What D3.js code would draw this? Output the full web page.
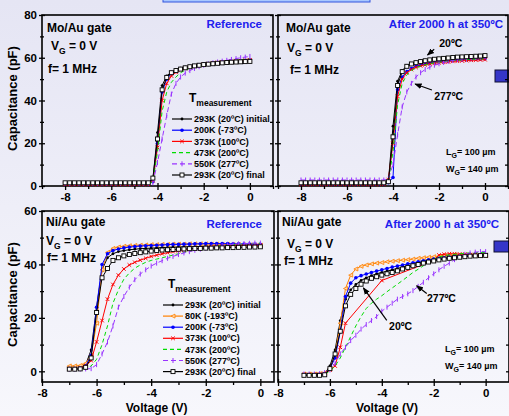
<!DOCTYPE html>
<html>
<head>
<meta charset="utf-8">
<script src="https://cdn.jsdelivr.net/npm/d3@7"></script>
<style>
  body { margin: 0; background: #f0f0f9; }
  svg { display: block; font-family: "Liberation Sans", Arial, sans-serif; font-weight: bold; }
</style>
</head>
<body>
<svg id="chart" width="509" height="416"></svg>
<script>
// voltage grids (V)
const voltsMo = [-8, -7.8, -7.6, -7.4, -7.2, -7, -6.8, -6.6, -6.4, -6.2, -6, -5.8, -5.6, -5.4, -5.2, -5, -4.8, -4.6, -4.4,
  -4.2, -4, -3.8, -3.6, -3.4, -3.2, -3, -2.8, -2.6, -2.4, -2.2, -2, -1.8, -1.6, -1.4, -1.2, -1, -0.8, -0.6, -0.4, -0.2, 0];
const voltsNi = [-7, -6.8, -6.6, -6.4, -6.2, -6, -5.8, -5.6, -5.4, -5.2, -5, -4.8, -4.6, -4.4, -4.2, -4, -3.8, -3.6,
  -3.4, -3.2, -3, -2.8, -2.6, -2.4, -2.2, -2, -1.8, -1.6, -1.4, -1.2, -1, -0.8, -0.6, -0.4, -0.2, 0];

// Mo/Au reference (pF)
const moRefInit = [1.4, 1.4, 1.4, 1.4, 1.4, 1.4, 1.4, 1.4, 1.4, 1.4, 1.4, 1.4, 1.4, 1.4, 1.4, 1.4, 1.4, 1.4, 1.4,
  3.0, 25, 47, 51.5, 53.3, 54.4, 55.1, 55.6, 56.0, 56.4, 56.7, 57.0, 57.2, 57.4, 57.6, 57.8, 57.9, 58.0, 58.1, 58.2, 58.3, 58.4];
const moRef200 = [1.2, 1.2, 1.2, 1.2, 1.2, 1.2, 1.2, 1.2, 1.2, 1.2, 1.2, 1.2, 1.2, 1.2, 1.2, 1.2, 1.2, 1.2, 1.2,
  2.0, 20, 44, 50, 52.6, 54.0, 54.8, 55.4, 55.9, 56.3, 56.7, 57.0, 57.3, 57.5, 57.7, 57.9, 58.1, 58.3, 58.4, 58.6, 58.7, 58.9];
const moRef373 = [0.8, 0.8, 0.8, 0.8, 0.8, 0.8, 0.8, 0.8, 0.8, 0.8, 0.8, 0.8, 0.8, 0.8, 0.8, 0.8, 0.8, 0.8, 0.8,
  2.5, 18, 40, 48, 51.5, 53.2, 54.3, 55.0, 55.6, 56.1, 56.5, 56.9, 57.2, 57.5, 57.7, 57.9, 58.1, 58.3, 58.5, 58.6, 58.8, 59.0];
const moRef473 = [1.0, 1.0, 1.0, 1.0, 1.0, 1.0, 1.0, 1.0, 1.0, 1.0, 1.0, 1.0, 1.0, 1.0, 1.0, 1.0, 1.0, 1.0, 1.0,
  2.0, 16, 35, 44, 48.5, 51.0, 53.0, 54.2, 55.1, 55.8, 56.3, 56.8, 57.2, 57.6, 57.9, 58.2, 58.5, 58.7, 58.9, 59.1, 59.3, 59.5];
const moRef550 = [1.2, 1.2, 1.2, 1.2, 1.2, 1.2, 1.2, 1.2, 1.2, 1.2, 1.2, 1.2, 1.2, 1.2, 1.2, 1.2, 1.2, 1.2, 1.2,
  1.5, 11, 22, 33, 43, 48, 51, 52.8, 54.0, 55.0, 55.8, 56.5, 57.1, 57.6, 58.0, 58.4, 58.8, 59.2, 59.6, 60.0, 60.3, 60.6];
const moRefFinal = [1.5, 1.5, 1.5, 1.5, 1.5, 1.5, 1.5, 1.5, 1.5, 1.5, 1.5, 1.5, 1.5, 1.5, 1.5, 1.5, 1.5, 1.5, 1.5,
  3.7, 22, 45, 50.8, 53.0, 54.0, 54.7, 55.3, 55.8, 56.2, 56.5, 56.8, 57.0, 57.2, 57.4, 57.6, 57.8, 57.9, 58.0, 58.1, 58.2, 58.3];

// Mo/Au after 2000 h at 350 C (pF)
const moAgedInit = [1.3, 1.3, 1.3, 1.3, 1.3, 1.3, 1.3, 1.3, 1.3, 1.3, 1.3, 1.3, 1.3, 1.3, 1.3, 1.3, 1.3, 1.3, 1.3,
  2.0, 28, 49, 54, 56.3, 57.4, 58.0, 58.5, 58.9, 59.2, 59.5, 59.7, 59.9, 60.1, 60.2, 60.3, 60.4, 60.5, 60.6, 60.7, 60.8, 60.9];
const moAged200 = [1.0, 1.0, 1.0, 1.0, 1.0, 1.0, 1.0, 1.0, 1.0, 1.0, 1.0, 1.0, 1.0, 1.0, 1.0, 1.0, 1.0, 1.0, 1.0,
  1.5, 4, 45, 51, 53.5, 55.0, 56.0, 56.6, 57.1, 57.5, 57.8, 58.1, 58.3, 58.5, 58.7, 58.9, 59.0, 59.1, 59.2, 59.3, 59.4, 59.5];
const moAged373 = [0.8, 0.8, 0.8, 0.8, 0.8, 0.8, 0.8, 0.8, 0.8, 0.8, 0.8, 0.8, 0.8, 0.8, 0.8, 0.8, 0.8, 0.8, 0.8,
  3.0, 20, 42, 50, 53, 54.5, 55.5, 56.2, 56.7, 57.1, 57.4, 57.7, 57.9, 58.1, 58.3, 58.4, 58.6, 58.7, 58.8, 58.9, 59.0, 59.1];
const moAged473 = [1.0, 1.0, 1.0, 1.0, 1.0, 1.0, 1.0, 1.0, 1.0, 1.0, 1.0, 1.0, 1.0, 1.0, 1.0, 1.0, 1.0, 1.0, 1.0,
  2.0, 16, 38, 48, 52, 54, 55.3, 56.1, 56.7, 57.2, 57.6, 57.9, 58.2, 58.4, 58.6, 58.8, 59.0, 59.1, 59.2, 59.3, 59.4, 59.5];
const moAged550 = [2.8, 2.8, 2.8, 2.8, 2.8, 2.8, 2.8, 2.8, 2.8, 2.8, 2.8, 2.8, 2.8, 2.8, 2.8, 2.8, 2.8, 2.8, 2.8,
  3.5, 10, 24, 37, 44, 48, 51, 53, 54.5, 55.6, 56.5, 57.2, 57.8, 58.3, 58.7, 59.1, 59.4, 59.7, 59.9, 60.1, 60.3, 60.5];
const moAgedFinal = [1.5, 1.5, 1.5, 1.5, 1.5, 1.5, 1.5, 1.5, 1.5, 1.5, 1.5, 1.5, 1.5, 1.5, 1.5, 1.5, 1.5, 1.5, 1.5,
  2.0, 23, 47, 53.5, 56.0, 57.1, 57.7, 58.2, 58.6, 59.0, 59.3, 59.5, 59.7, 59.9, 60.1, 60.3, 60.4, 60.5, 60.6, 60.7, 60.8, 61.0];

// Ni/Au reference (pF)
const niRefInit = [0.8, 1.0, 1.3, 2.5, 8, 24, 38, 42.5, 44, 44.8, 45.2, 45.5, 45.7, 45.9, 46.0, 46.1, 46.2, 46.3,
  46.4, 46.5, 46.5, 46.6, 46.6, 46.7, 46.7, 46.8, 46.8, 46.9, 46.9, 47.0, 47.0, 47.0, 47.1, 47.1, 47.1, 47.2];
const niRef80 = [2.0, 2.0, 2.2, 3.0, 6, 18, 38, 44.5, 46, 46.5, 46.8, 47.0, 47.1, 47.2, 47.3, 47.4, 47.4, 47.5,
  47.5, 47.6, 47.6, 47.6, 47.7, 47.7, 47.7, 47.7, 47.6, 47.6, 47.5, 47.5, 47.4, 47.4, 47.3, 47.3, 47.2, 47.2];
const niRef200 = [1.0, 1.0, 1.2, 2.0, 6, 24, 40, 44, 45.2, 45.8, 46.2, 46.5, 46.7, 46.9, 47.0, 47.1, 47.2, 47.3,
  47.4, 47.5, 47.5, 47.6, 47.6, 47.7, 47.7, 47.8, 47.8, 47.8, 47.8, 47.8, 47.7, 47.7, 47.6, 47.6, 47.5, 47.5];
const niRef373 = [1.0, 1.0, 1.2, 2.0, 4, 11, 19, 27, 32.5, 36, 38.3, 39.8, 40.8, 41.6, 42.3, 43.0, 43.5, 44.0,
  44.4, 44.8, 45.1, 45.4, 45.7, 45.9, 46.1, 46.3, 46.5, 46.6, 46.7, 46.8, 46.9, 47.0, 47.0, 47.1, 47.1, 47.2];
const niRef473 = [0.8, 0.8, 0.9, 1.0, 2, 4.5, 10, 17, 25.5, 30.5, 34.5, 36.8, 38.6, 39.8, 40.8, 41.5, 42.0, 42.5,
  43.0, 43.5, 44.0, 44.5, 45.0, 45.4, 45.8, 46.1, 46.4, 46.7, 47.0, 47.2, 47.4, 47.6, 47.7, 47.8, 47.9, 48.0];
const niRef550 = [0.8, 0.8, 0.8, 0.9, 1, 2.5, 6.5, 11, 17, 24, 28, 31.5, 34.3, 36.4, 38.0, 39.4, 40.5, 41.4,
  42.3, 43.0, 43.7, 44.3, 44.8, 45.3, 45.7, 46.1, 46.5, 46.8, 47.1, 47.3, 47.5, 47.7, 47.8, 47.9, 48.0, 48.0];
const niRefFinal = [0.8, 0.8, 0.9, 1.5, 5, 22, 35, 38.5, 41.5, 42.5, 43.2, 43.7, 44.1, 44.4, 44.7, 45.0, 45.2, 45.4,
  45.5, 45.6, 45.7, 45.8, 45.9, 46.0, 46.0, 46.1, 46.1, 46.2, 46.2, 46.3, 46.3, 46.4, 46.4, 46.5, 46.5, 46.6];

// Ni/Au after 2000 h at 350 C (pF), null = not measured
const niAgedInit = [-1.2, -1.2, -1.2, -1.1, -0.8, 2, 8, 19, 27, 30.5, 32.5, 34, 35, 35.8, 36.5, 37, 37.5, 38,
  38.5, 39, 39.5, 40, 40.5, 40.9, 41.3, 41.7, 42, 42.3, 42.6, 42.8, 43, 43.2, 43.3, 43.4, 43.5, 43.5];
const niAged80 = [-1.0, -1.0, -1.0, -0.9, -0.6, 1, 6, 18, 31, 36, 38.3, 39.3, 39.8, 40.2, 40.5, 40.7, 41.0, 41.2,
  41.4, 41.6, 41.8, 42.0, 42.3, 42.5, 42.7, 42.9, 43.1, 43.3, 43.4, 43.5, 43.5, 43.5, 43.4, 43.4, 43.3, 43.3];
const niAged200 = [-1.2, -1.2, -1.2, -1.1, -0.8, 1, 5, 15, 28, 33, 35, 35.8, 36.4, 37.0, 37.5, 38.0, 38.5, 39.0,
  39.4, 39.8, 40.2, 40.6, 41.0, 41.4, 41.7, 42.0, 42.3, 42.5, 42.8, 43.0, 43.2, 43.3, 43.4, 43.5, 43.5, 43.5];
const niAged373 = [-1.2, -1.2, -1.2, -1.1, -0.8, 0.5, 2, 9, 18, null, null, null, null, null, null, 34, null, null,
  null, null, null, null, null, null, null, 41.5, 43.5, 43.8, 44.0, 44.0, 43.9, 43.8, 43.7, 43.6, 43.5, 43.5];
const niAged473 = [-1.2, -1.2, -1.2, -1.1, -0.9, 0, 2, 5, 9, 13, 17, 20.5, 23.5, 25.5, 27, 28.3, 29.8, 31.2,
  32.6, 34, 35.5, 37, 38.2, 39.5, 40.7, 41.8, 42.8, 43.3, 43.6, 43.8, 44.0, 44.2, 44.3, 44.4, 44.5, 44.5];
const niAged550 = [-1.0, -1.0, -1.0, -0.9, -0.5, 0.5, 3, 6.5, 9, 11.5, 13.5, 15.8, 17.5, 19, 20.5, 22.5, 24, 25.5,
  27, 28, 29, 30.2, 31.8, 33.3, 35, 36.5, 38, 39.3, 40.5, 41.8, 43, 43.8, 44.3, 44.6, 44.8, 44.8];
const niAgedFinal = [-1.5, -1.5, -1.5, -1.5, -1.3, 1, 6.5, 15, 24.5, 28.8, 31, 32.6, 33.8, 34.8, 35.4, 36, 36.5, 37,
  37.6, 38.3, 38.9, 39.5, 40, 40.5, 40.9, 41.3, 41.7, 42, 42.3, 42.5, 42.7, 42.9, 43.1, 43.2, 43.3, 43.4];

const seriesKeys = ["init", "k80", "k200", "k373", "k473", "k550", "final"];
const seriesLabels = {
  init: "293K (20ºC) initial", k80: "80K (-193ºC)", k200: "200K (-73ºC)", k373: "373K (100ºC)",
  k473: "473K (200ºC)", k550: "550K (277ºC)", final: "293K (20ºC) final"
};
const styles = {
  init:  { color: "#000000", marker: "dot" },
  k80:   { color: "#ff8000", marker: "triangle" },
  k200:  { color: "#0000ff", marker: "circle" },
  k373:  { color: "#ff0000", marker: "cross" },
  k473:  { color: "#00dd00", dash: "4,3", marker: null },
  k550:  { color: "#9933ff", dash: "5,3", marker: "tick" },
  final: { color: "#000000", marker: "square" }
};

const blue = "#2020ee";

const panels = [
  { left: 42, right: 273, top: 15, bottom: 186, xDomain: [-9, 1], yDomain: [0, 80],
    yMajor: [0, 20, 40, 60, 80], yMinor: [10, 30, 50, 70], yLabels: true, volts: voltsMo,
    series: { init: moRefInit, k200: moRef200, k373: moRef373, k473: moRef473, k550: moRef550, final: moRefFinal },
    gate: "Mo/Au gate", tag: "Reference", tagRight: 262, tagY: 28,
    gatePos: [47, 32], vgPos: [51, 50], fPos: [48, 73],
    legend: { tX: 189, tY: 102, lineX: 172, rowY: 119, rowH: 11.2 } },
  { left: 278, right: 508, top: 15, bottom: 186, xDomain: [-9, 1], yDomain: [0, 80],
    yMajor: [0, 20, 40, 60, 80], yMinor: [10, 30, 50, 70], yLabels: false, volts: voltsMo,
    series: { init: moAgedInit, k200: moAged200, k373: moAged373, k473: moAged473, k550: moAged550, final: moAgedFinal },
    gate: "Mo/Au gate", tag: "After 2000 h at 350ºC", tagRight: 503, tagY: 28,
    gatePos: [286, 32], vgPos: [287, 52], fPos: [290, 74], lw: [446, 155],
    notes: [
      { text: "20ºC", at: [-1.99, 65], from: [-2.21, 64], to: [-2.5, 61.3] },
      { text: "277ºC", at: [-2.21, 40.2], from: [-2.31, 44.9], to: [-3.04, 47.7] }
    ] },
  { left: 42, right: 274, top: 211, bottom: 382, xDomain: [-8, 0.5], yDomain: [-4, 60],
    yMajor: [0, 20, 40, 60], yMinor: [10, 30, 50], yLabels: true, volts: voltsNi,
    series: { init: niRefInit, k80: niRef80, k200: niRef200, k373: niRef373, k473: niRef473, k550: niRef550, final: niRefFinal },
    gate: "Ni/Au gate", tag: "Reference", tagRight: 262, tagY: 228,
    gatePos: [46, 226], vgPos: [46, 245], fPos: [47, 262], xTitle: true,
    legend: { tX: 168, tY: 288, lineX: 163, rowY: 305, rowH: 11.1 } },
  { left: 278, right: 509, top: 211, bottom: 382, xDomain: [-8, 0.9], yDomain: [-4, 60],
    yMajor: [0, 20, 40, 60], yMinor: [10, 30, 50], yLabels: false, volts: voltsNi,
    series: { init: niAgedInit, k80: niAged80, k200: niAged200, k373: niAged373, k473: niAged473, k550: niAged550, final: niAgedFinal },
    gate: "Ni/Au gate", tag: "After 2000 h at 350ºC", tagRight: 499, tagY: 228,
    gatePos: [282, 226], vgPos: [287, 248], fPos: [284, 265], lw: [445, 352], xTitle: true,
    notes: [
      { text: "277ºC", at: [-2.26, 25.9], from: [-2.27, 29.1], to: [-2.66, 32] },
      { text: "20ºC", at: [-3.72, 15.4], from: [-3.81, 19.1], to: [-4.71, 31.2] }
    ] }
];

const svg = d3.select("#chart");

const bg = svg.append("defs").append("linearGradient").attr("id", "bg")
  .attr("x1", 0).attr("y1", 0).attr("x2", 0).attr("y2", 1);
bg.append("stop").attr("offset", "0%").attr("stop-color", "#e5e5f4");
bg.append("stop").attr("offset", "100%").attr("stop-color", "#f7f7fc");
svg.select("defs").append("marker").attr("id", "arrow")
  .attr("viewBox", "0 0 10 10").attr("refX", 9).attr("refY", 5)
  .attr("markerWidth", 6).attr("markerHeight", 6).attr("orient", "auto")
  .append("path").attr("d", "M0,1 L10,5 L0,9 Z").attr("fill", "#000");

svg.append("rect").attr("width", 509).attr("height", 416).attr("fill", "url(#bg)");

// slide decorations peeking in from outside the chart
svg.append("rect").attr("x", 163).attr("y", -3).attr("width", 207).attr("height", 5)
  .attr("fill", "#a8c8ff").attr("stroke", "#3355dd");
svg.append("rect").attr("x", 495).attr("y", 70).attr("width", 16).attr("height", 12)
  .attr("fill", "#3535c8").attr("stroke", "#111133");
svg.append("rect").attr("x", 494).attr("y", 241).attr("width", 16).attr("height", 11)
  .attr("fill", "#3535c8").attr("stroke", "#111133");

function addMarker(sel, kind, color) {
  if (kind === "square") {
    sel.append("rect").attr("x", -2).attr("y", -2).attr("width", 4).attr("height", 4)
      .attr("fill", "#fff").attr("stroke", "#000").attr("stroke-width", 0.9);
  } else if (kind === "dot") {
    sel.append("circle").attr("r", 1.4).attr("fill", color);
  } else if (kind === "circle") {
    sel.append("circle").attr("r", 1.8).attr("fill", color);
  } else if (kind === "triangle") {
    sel.append("path").attr("d", "M-2,0 L2,-2 L2,2 Z")
      .attr("fill", "#ffd9b0").attr("stroke", color).attr("stroke-width", 0.8);
  } else if (kind === "cross") {
    sel.append("path").attr("d", "M-1.8,-1.8 L1.8,1.8 M-1.8,1.8 L1.8,-1.8")
      .attr("stroke", color).attr("stroke-width", 1);
  } else if (kind === "tick") {
    sel.append("path").attr("d", "M0,-2.5 L0,2.5").attr("stroke", color).attr("stroke-width", 1);
  }
}

function subText(g, x, y, main, sub, rest, size, subSize) {
  const t = g.append("text").attr("x", x).attr("y", y).attr("font-size", size).attr("fill", "#000");
  t.append("tspan").text(main);
  t.append("tspan").attr("font-size", subSize).attr("dy", size * 0.3).text(sub);
  t.append("tspan").attr("dy", -size * 0.3).text(rest);
  return t;
}

const fmt = d => String(d);

panels.forEach(p => {
  const x = d3.scaleLinear().domain(p.xDomain).range([p.left, p.right]);
  const y = d3.scaleLinear().domain(p.yDomain).range([p.bottom, p.top]);
  const g = svg.append("g");

  const xMajor = [-8, -6, -4, -2, 0];
  const xMinor = d3.range(Math.ceil(p.xDomain[0]), p.xDomain[1] + 0.01, 1).filter(v => !xMajor.includes(v));

  const styleAxis = a => {
    a.select(".domain").remove();
    a.selectAll("line").attr("stroke", "#000").attr("stroke-width", 1.3);
    a.selectAll("text").attr("fill", "#000").attr("font-size", 11.5)
      .attr("font-family", "Liberation Sans, Arial, sans-serif").attr("font-weight", "bold");
  };

  // x axis: labelled ticks outside, short ones inside
  g.append("g").attr("transform", `translate(0,${p.bottom})`)
    .call(d3.axisBottom(x).tickValues(xMajor).tickSize(4).tickPadding(3).tickFormat(fmt)).call(styleAxis);
  g.append("g").attr("transform", `translate(0,${p.bottom})`)
    .call(d3.axisBottom(x).tickValues(xMajor).tickSize(-3).tickFormat("")).call(styleAxis);
  g.append("g").attr("transform", `translate(0,${p.bottom})`)
    .call(d3.axisBottom(x).tickValues(xMinor).tickSize(3).tickFormat("")).call(styleAxis);

  // y axis
  g.append("g").attr("transform", `translate(${p.left},0)`)
    .call(d3.axisLeft(y).tickValues(p.yMajor).tickSize(3).tickPadding(2)
      .tickFormat(p.yLabels ? fmt : "")).call(styleAxis);
  g.append("g").attr("transform", `translate(${p.left},0)`)
    .call(d3.axisLeft(y).tickValues(p.yMajor).tickSize(-3).tickFormat("")).call(styleAxis);
  g.append("g").attr("transform", `translate(${p.left},0)`)
    .call(d3.axisLeft(y).tickValues(p.yMinor).tickSize(2).tickFormat("")).call(styleAxis);
  g.append("g").attr("transform", `translate(${p.left},0)`)
    .call(d3.axisLeft(y).tickValues(p.yMinor).tickSize(-2).tickFormat("")).call(styleAxis);
  g.append("g").attr("transform", `translate(${p.right},0)`)
    .call(d3.axisRight(y).tickValues(p.yMajor.concat(p.yMinor)).tickSize(-3).tickFormat("")).call(styleAxis);

  g.append("rect").attr("x", p.left).attr("y", p.top)
    .attr("width", p.right - p.left).attr("height", p.bottom - p.top)
    .attr("fill", "none").attr("stroke", "#000").attr("stroke-width", 1.6);

  // curves
  const line = d3.line().x(d => x(d[0])).y(d => y(d[1]));
  seriesKeys.forEach(k => {
    const vals = p.series[k];
    if (!vals) return;
    const st = styles[k];
    const pts = p.volts.map((v, i) => [v, vals[i]]).filter(d => d[1] != null);
    g.append("path").datum(pts).attr("d", line)
      .attr("fill", "none").attr("stroke", st.color).attr("stroke-width", 1)
      .attr("stroke-dasharray", st.dash || null);
    if (st.marker) {
      g.append("g").selectAll("g").data(pts).join("g")
        .attr("transform", d => `translate(${x(d[0])},${y(d[1])})`)
        .each(function () { addMarker(d3.select(this), st.marker, st.color); });
    }
  });

  // panel texts
  g.append("text").attr("x", p.gatePos[0]).attr("y", p.gatePos[1]).attr("font-size", 12).text(p.gate);
  subText(g, p.vgPos[0], p.vgPos[1], "V", "G", " = 0 V", 12, 8.5);
  g.append("text").attr("x", p.fPos[0]).attr("y", p.fPos[1]).attr("font-size", 12).text("f= 1 MHz");
  g.append("text").attr("x", p.tagRight).attr("y", p.tagY).attr("text-anchor", "end")
    .attr("font-size", 11.5).attr("fill", blue).text(p.tag);

  if (p.lw) {
    subText(g, p.lw[0], p.lw[1], "L", "G", "= 100 µm", 9, 7);
    subText(g, p.lw[0], p.lw[1] + 17, "W", "G", "= 140 µm", 9, 7);
  }

  (p.notes || []).forEach(n => {
    g.append("text").attr("x", x(n.at[0])).attr("y", y(n.at[1])).attr("font-size", 10.5).text(n.text);
    g.append("line").attr("x1", x(n.from[0])).attr("y1", y(n.from[1]))
      .attr("x2", x(n.to[0])).attr("y2", y(n.to[1]))
      .attr("stroke", "#000").attr("stroke-width", 1.2).attr("marker-end", "url(#arrow)");
  });

  if (p.legend) {
    const L = p.legend;
    subText(g, L.tX, L.tY, "T", "measurement", "", 12, 8.5);
    const keys = seriesKeys.filter(k => p.series[k]);
    const rows = g.append("g").selectAll("g").data(keys).join("g")
      .attr("transform", (k, i) => `translate(${L.lineX},${L.rowY + i * L.rowH})`);
    rows.append("line").attr("x1", 0).attr("x2", 20).attr("y1", 0).attr("y2", 0)
      .attr("stroke", k => styles[k].color).attr("stroke-width", 1.2)
      .attr("stroke-dasharray", k => styles[k].dash || null);
    rows.each(function (k) {
      if (styles[k].marker) {
        addMarker(d3.select(this).append("g").attr("transform", "translate(10,0)"), styles[k].marker, styles[k].color);
      }
    });
    rows.append("text").attr("x", 22).attr("y", 0).attr("dy", "0.35em").attr("font-size", 9)
      .text(k => seriesLabels[k]);
  }

  // axis titles
  const midY = (p.top + p.bottom) / 2;
  if (p.yLabels) {
    g.append("text").attr("transform", `translate(17,${midY - 2}) rotate(-90)`)
      .attr("text-anchor", "middle").attr("font-size", 13).text("Capacitance (pF)");
  }
  if (p.xTitle) {
    g.append("text").attr("x", x(-3.8)).attr("y", 412).attr("text-anchor", "middle")
      .attr("font-size", 12).text("Voltage (V)");
  }
});
</script>
</body>
</html>
